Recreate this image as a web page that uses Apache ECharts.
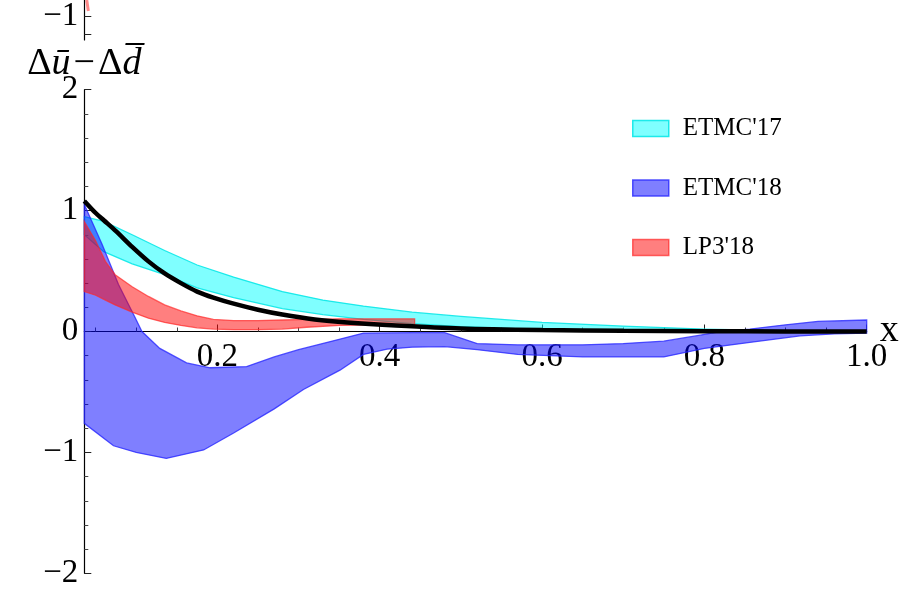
<!DOCTYPE html>
<html><head><meta charset="utf-8">
<script src="https://cdn.jsdelivr.net/npm/echarts@6/dist/echarts.min.js"></script>
<style>html,body{margin:0;padding:0;background:#fff}#c{width:912px;height:589px}</style>
</head><body><div id="c"></div>
<script>
// ---- data ----
const xMin = 0.036, xMax = 1.0;
const xMajorTicks = [0.2, 0.4, 0.6, 0.8, 1.0];
const xMinorTicks = [0.05,0.1,0.15,0.25,0.3,0.35,0.45,0.5,0.55,0.65,0.7,0.75,0.85,0.9,0.95];

// ETMC'17 (cyan band)
const cyanX  = [0.036,0.06,0.095,0.135,0.175,0.22,0.28,0.33,0.38,0.44,0.50,0.60,0.70,0.80,0.90,1.00];
const cyanHi = [0.95, 0.91,0.80, 0.67, 0.55, 0.45,0.33,0.26,0.21,0.16,0.125,0.075,0.045,0.02,0.006,0.0];
const cyanLo = [0.80, 0.66,0.56, 0.47, 0.36, 0.28,0.19,0.14,0.10,0.065,0.04,0.015,0.005,0.0,0.0,0.0];

// ETMC'18 (blue band)
const blueHiX = [0.036,0.058,0.078,0.099,0.107,0.129,0.162,0.191,0.236,0.27,0.30,0.35,0.38,0.44,0.48,0.52,0.57,0.65,0.70,0.75,0.795,0.82,0.856,0.90,0.94,1.0];
const blueHi  = [1.05, 0.72, 0.39, 0.11, 0.0, -0.14,-0.26,-0.30,-0.29,-0.21,-0.15,-0.065,-0.013,-0.01,-0.01,-0.10,-0.11,-0.11,-0.10,-0.08,-0.03,0.0,0.02,0.055,0.083,0.095];
const blueLoX = [0.036,0.072,0.10,0.137,0.183,0.22,0.27,0.306,0.351,0.38,0.409,0.44,0.48,0.52,0.57,0.65,0.75,0.80,0.856,0.918,0.96,1.0];
const blueLo  = [-0.76,-0.945,-1.0,-1.05,-0.98,-0.84,-0.64,-0.48,-0.32,-0.19,-0.146,-0.13,-0.125,-0.15,-0.19,-0.21,-0.21,-0.14,-0.09,-0.036,-0.02,-0.013];

// LP3'18 (red band)
const redX  = [0.036,0.05,0.062,0.074,0.095,0.115,0.135,0.155,0.175,0.195,0.22,0.25,0.28,0.31,0.35,0.40,0.443];
const redHi = [0.91, 0.75,0.58, 0.47, 0.37, 0.29, 0.22, 0.17, 0.13, 0.10, 0.09,0.09,0.095,0.10,0.105,0.105,0.105];
const redLo = [0.33, 0.30,0.26, 0.22, 0.16, 0.11, 0.075,0.05, 0.03, 0.02, 0.015,0.015,0.02,0.035,0.05,0.055,0.055];

// black curve
const blackX = [0.036,0.05,0.06,0.075,0.095,0.115,0.135,0.155,0.175,0.195,0.22,0.25,0.28,0.32,0.36,0.42,0.50,0.60,0.70,0.80,0.90,1.00];
const blackY = [1.08, 0.98,0.92,0.83, 0.70, 0.58, 0.48, 0.40, 0.33, 0.28, 0.23,0.18,0.14,0.10,0.075,0.05,0.025,0.012,0.006,0.003,0.001,0.0];

// fragment of panel above
const fragX = [0.039, 0.041];
const fragY = [-0.825, -0.945];

const legendNames = ["ETMC'17", "ETMC'18", "LP3'18"];

// ---- build ----
function poly(xu, yu, xl, yl) {
  const pts = [];
  for (let i = 0; i < xu.length; i++) pts.push([xu[i], yu[i]]);
  for (let i = xl.length - 1; i >= 0; i--) pts.push([xl[i], yl[i]]);
  return pts;
}
function pairs(xs, ys) { return xs.map((x, i) => [x, ys[i]]); }
function polyRender(fill, stroke) {
  return function (params, api) {
    if (params.dataIndexInside !== 0) return null;
    const pts = [];
    for (let i = 0; i < params.dataInsideLength; i++) {
      pts.push(api.coord([api.value(0, i), api.value(1, i)]));
    }
    return { type: 'polygon', shape: { points: pts }, style: { fill: fill, stroke: stroke, lineWidth: 1.3 } };
  };
}
const FONT = 'Liberation Serif';
const minus = v => String(v).replace('-', '\u2212');

const colors = {
  cyan: { fill: 'rgba(0,255,255,0.5)', stroke: 'rgba(0,230,230,0.85)' },
  blue: { fill: 'rgba(0,0,255,0.5)', stroke: 'rgba(40,40,255,0.8)' },
  red:  { fill: 'rgba(255,0,0,0.5)', stroke: 'rgba(255,40,40,0.7)' }
};

const GRID_TOP = 89.7, GRID_BOTTOM = 15.7, H = 589;
const plotH = H - GRID_TOP - GRID_BOTTOM;
// the x axis sits at y = 0 (middle of the [-2, 2] range)
const xAxisOffset = -plotH * (0 - (-2)) / 4;

const chart = echarts.init(document.getElementById('c'), null, { renderer: 'canvas', width: 912, height: 589 });
chart.setOption({
  animation: false,
  backgroundColor: '#fff',
  grid: [
    { left: 84.3, right: 45.3, top: GRID_TOP, bottom: GRID_BOTTOM, containLabel: false, outerBoundsMode: 'none' },
    { left: 84.3, right: 45.3, top: 0, height: 40, containLabel: false, outerBoundsMode: 'none' }
  ],
  legend: {
    orient: 'vertical', left: 632, top: 116, padding: 0,
    itemWidth: 36, itemHeight: 16, itemGap: 34.5,
    textStyle: { fontFamily: FONT, fontSize: 25, color: '#000', padding: [0, 0, 0, 9] },
    data: [
      { name: legendNames[0], icon: 'rect', itemStyle: { color: colors.cyan.fill, borderColor: colors.cyan.stroke, borderWidth: 1.5 } },
      { name: legendNames[1], icon: 'rect', itemStyle: { color: colors.blue.fill, borderColor: colors.blue.stroke, borderWidth: 1.5 } },
      { name: legendNames[2], icon: 'rect', itemStyle: { color: colors.red.fill, borderColor: colors.red.stroke, borderWidth: 1.5 } }
    ]
  },
  xAxis: [
    {
      gridIndex: 0, type: 'value', position: 'bottom', offset: xAxisOffset, min: xMin, max: xMax,
      axisLine: { show: true, onZero: false, lineStyle: { color: '#000', width: 1.2 } },
      axisTick: { show: true, inside: true, length: 7, customValues: xMajorTicks, lineStyle: { color: '#222', width: 1 } },
      axisLabel: { show: true, customValues: xMajorTicks, formatter: v => v.toFixed(1), fontFamily: FONT, fontSize: 33, color: '#000', margin: 9 },
      splitLine: { show: false },
      name: 'x', nameLocation: 'end', nameGap: 13, nameMoveOverlap: false,
      nameTextStyle: { fontFamily: FONT, fontSize: 38, color: '#000', verticalAlign: 'middle', padding: [0, 0, 4, 0] }
    },
    {
      gridIndex: 0, type: 'value', position: 'bottom', offset: xAxisOffset, min: xMin, max: xMax,
      axisLine: { show: false, onZero: false },
      axisTick: { show: true, inside: true, length: 4, customValues: xMinorTicks, lineStyle: { color: '#444', width: 1 } },
      axisLabel: { show: false }, splitLine: { show: false }
    },
    { gridIndex: 1, type: 'value', min: xMin, max: xMax, show: false }
  ],
  yAxis: [
    {
      gridIndex: 0, type: 'value', min: -2, max: 2, interval: 1,
      axisLine: { show: true, onZero: false, lineStyle: { color: '#000', width: 1.2 } },
      axisTick: { show: true, inside: true, length: 7, lineStyle: { color: '#222' } },
      minorTick: { show: true, splitNumber: 5, length: 4, lineStyle: { color: '#444' } },
      axisLabel: { fontFamily: FONT, fontSize: 33, color: '#000', margin: 6, formatter: minus },
      splitLine: { show: false }, minorSplitLine: { show: false },
      name: '{n|\u0394}{i|\u016B}{m|\u2212}{n|\u0394}{i|d\u0305}',
      nameLocation: 'end', nameGap: 7, nameMoveOverlap: false,
      nameTextStyle: {
        fontFamily: FONT, fontSize: 38, color: '#000', align: 'center',
        rich: {
          n: { fontFamily: FONT, fontSize: 38, color: '#000' },
          i: { fontFamily: FONT, fontSize: 38, fontStyle: 'italic', color: '#000' },
          m: { fontFamily: FONT, fontSize: 38, color: '#000', padding: [0, 3, 0, 3] }
        }
      }
    },
    {
      gridIndex: 1, type: 'value', min: -1.262, max: -0.825,
      axisLine: { show: true, onZero: false, lineStyle: { color: '#000', width: 1.2 } },
      axisTick: { show: true, inside: true, length: 7, customValues: [-1.2, -1.0], lineStyle: { color: '#222' } },
      axisLabel: { customValues: [-1.0], fontFamily: FONT, fontSize: 33, color: '#000', margin: 6, formatter: v => minus(Math.round(v)) },
      splitLine: { show: false }
    }
  ],
  series: [
    { name: legendNames[0], type: 'custom', xAxisIndex: 0, yAxisIndex: 0, z: 2,
      itemStyle: { color: colors.cyan.fill },
      renderItem: polyRender(colors.cyan.fill, colors.cyan.stroke),
      encode: { x: 0, y: 1 }, data: poly(cyanX, cyanHi, cyanX, cyanLo) },
    { name: legendNames[1], type: 'custom', xAxisIndex: 0, yAxisIndex: 0, z: 3,
      itemStyle: { color: colors.blue.fill },
      renderItem: polyRender(colors.blue.fill, colors.blue.stroke),
      encode: { x: 0, y: 1 }, data: poly(blueHiX, blueHi, blueLoX, blueLo) },
    { name: legendNames[2], type: 'custom', xAxisIndex: 0, yAxisIndex: 0, z: 4,
      itemStyle: { color: colors.red.fill },
      renderItem: polyRender(colors.red.fill, colors.red.stroke),
      encode: { x: 0, y: 1 }, data: poly(redX, redHi, redX, redLo) },
    { type: 'line', xAxisIndex: 0, yAxisIndex: 0, z: 6, smooth: 0.3, showSymbol: false, symbol: 'none',
      lineStyle: { color: '#000', width: 4.5 }, data: pairs(blackX, blackY) },
    { type: 'line', xAxisIndex: 2, yAxisIndex: 1, z: 2, showSymbol: false, symbol: 'none',
      lineStyle: { color: 'rgba(255,60,60,0.6)', width: 3 }, data: pairs(fragX, fragY) }
  ]
});
</script></body></html>
